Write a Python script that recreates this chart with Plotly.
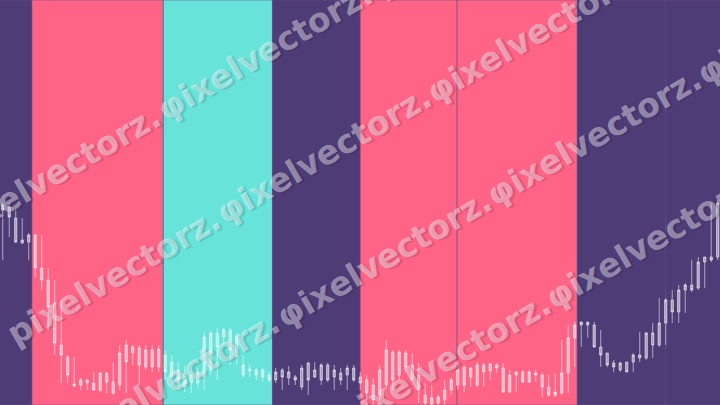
import math
import plotly.graph_objects as go

# ---- data: one candle per session (index), prices in chart units ----
session = list(range(111))

opens = [200, 198, 187, 162, 163, 170, 137, 125, 102, 60,
         48, 21, 20, 25, 22, 15, 32, 23, 20, 60,
         52, 57, 38, 55, 38, 50, 43, 35, 32, 22,
         22, 28, 35, 72, 68, 75, 68, 40, 34, 35,
         35, 30, 25, 35, 27, 28, 18, 42, 28, 25,
         40, 28, 32, 30, 37, 28, 25, 20, 10, 20,
         53, 30, 52, 40, 30, 10, 1, 2, 5, 15,
         20, 38, 28, 20, 40, 34, 40, 37, 13, 30,
         33, 23, 32, 30, 18, 10, 12, 32, 67, 80,
         83, 80, 58, 52, 42, 35, 43, 43, 47, 47,
         60, 60, 82, 105, 93, 115, 120, 117, 143, 148,
         148]
highs = [202, 202, 195, 187, 172, 171, 170, 137, 125, 105,
         50, 48, 27, 26, 33, 33, 33, 43, 60, 65,
         60, 60, 60, 60, 60, 55, 50, 43, 40, 35,
         37, 73, 75, 77, 77, 77, 72, 50, 40, 37,
         37, 33, 37, 37, 39, 30, 40, 43, 43, 42,
         42, 40, 37, 40, 40, 33, 30, 27, 40, 65,
         55, 55, 55, 52, 42, 22, 20, 10, 25, 27,
         38, 40, 38, 43, 42, 42, 42, 42, 35, 33,
         35, 35, 35, 32, 30, 32, 65, 80, 83, 83,
         83, 83, 75, 52, 45, 43, 43, 52, 73, 73,
         82, 107, 107, 115, 120, 122, 145, 148, 148, 202,
         205]
lows = [145, 168, 162, 161, 145, 128, 115, 75, 50, 22,
        22, 18, 15, 15, 14, 13, 12, 10, 15, 12,
        40, 20, 35, 33, 33, 25, 20, 15, 13, 12,
        17, 15, 30, 25, 60, 40, 40, 27, 28, 25,
        23, 23, 22, 15, 20, 20, 15, 10, 27, 20,
        23, 15, 20, 15, 23, 15, 0, 0, 5, 8,
        15, 25, 33, 25, 2, 0, 0, 0, 0, 10,
        15, 13, 18, 18, 18, 25, 32, 12, 12, 13,
        22, 22, 23, 8, 8, 8, 10, 12, 38, 58,
        67, 57, 38, 38, 33, 33, 33, 33, 43, 45,
        47, 58, 60, 82, 82, 92, 113, 115, 117, 143,
        145]
closes = [195, 188, 163, 165, 170, 137, 125, 98, 62, 50,
          30, 19, 25, 22, 15, 32, 23, 12, 52, 43,
          58, 40, 55, 38, 56, 33, 28, 22, 18, 30,
          33, 68, 72, 58, 75, 55, 48, 30, 36, 30,
          28, 25, 33, 28, 33, 25, 37, 25, 35, 40,
          25, 35, 25, 37, 25, 22, 12, 5, 35, 55,
          25, 53, 38, 25, 15, 2, 7, 8, 15, 25,
          35, 20, 37, 40, 33, 41, 37, 13, 30, 33,
          23, 33, 30, 18, 10, 13, 32, 67, 80, 83,
          80, 58, 50, 40, 38, 42, 33, 50, 50, 72,
          72, 82, 105, 93, 115, 120, 115, 143, 148, 145,
          202]

# regime bands (session boundaries) and their kind
regime_edges = [-2, 4.5, 24.7, 41.5, 55.0, 69.9, 88.4, 102.0, 113]
regime_kinds = ["bear", "bull", "range", "bear", "bull", "bull", "bear", "bear"]

watermark_first = "pixelvectorz."
watermark_next = "φixelvectorz."

# ---- styles ----
kind_colors = {"bear": "#4e3c77", "bull": "#ff6486", "range": "#67e3d9"}
W, H = 720, 405
candle_line = "rgba(255,255,255,0.55)"
candle_fill = "rgba(255,255,255,0.5)"

fig = go.Figure()
fig.add_trace(go.Candlestick(
    x=session, open=opens, high=highs, low=lows, close=closes,
    increasing=dict(line=dict(color=candle_line, width=1), fillcolor=candle_fill),
    decreasing=dict(line=dict(color=candle_line, width=1), fillcolor=candle_fill),
    whiskerwidth=0, showlegend=False, hoverinfo="skip",
))

shapes = []
for k, kind in enumerate(regime_kinds):
    shapes.append(dict(
        type="rect", xref="x", yref="paper",
        x0=regime_edges[k], x1=regime_edges[k + 1], y0=0, y1=1,
        fillcolor=kind_colors[kind],
        line=dict(color="rgba(100,80,130,0.6)", width=1),
        layer="below",
    ))

# watermark: parallel rotated rows of repeated words
ang = math.radians(30)
d = (math.cos(ang), -math.sin(ang))
nrm = (math.sin(ang), math.cos(ang))
anchor = (324, 155)
pitch = 243
row_gap = 119
rows = {-1: range(0, 3), 0: range(0, 4), 1: range(0, 5), 2: range(1, 5)}
annotations = []
for r, words in rows.items():
    for j in words:
        px = anchor[0] + r * row_gap * nrm[0] + (j - 1) * pitch * d[0]
        py = anchor[1] + r * row_gap * nrm[1] + (j - 1) * pitch * d[1]
        annotations.append(dict(
            x=px / W, y=1 - py / H, xref="paper", yref="paper",
            xanchor="center", yanchor="middle", showarrow=False,
            text=watermark_first if j == 0 else watermark_next,
            textangle=-30,
            font=dict(family="DejaVu Sans", size=33, weight=700,
                      color="rgba(255,255,255,0.42)",
                      shadow="2px 2px 1px rgba(20,10,40,0.35)"),
        ))

fig.update_layout(
    width=W, height=H, margin=dict(l=0, r=0, t=0, b=0),
    paper_bgcolor="#4e3c77", plot_bgcolor="#4e3c77",
    shapes=shapes, annotations=annotations, boxgap=0.5,
    xaxis=dict(range=[-0.42, 110.35], visible=False, rangeslider=dict(visible=False), fixedrange=True),
    yaxis=dict(range=[0, 405], visible=False, fixedrange=True),
    showlegend=False,
)
fig.write_html("out.html", config={"displayModeBar": False},
               post_script="document.body.style.margin='0';document.body.style.overflow='hidden';")
